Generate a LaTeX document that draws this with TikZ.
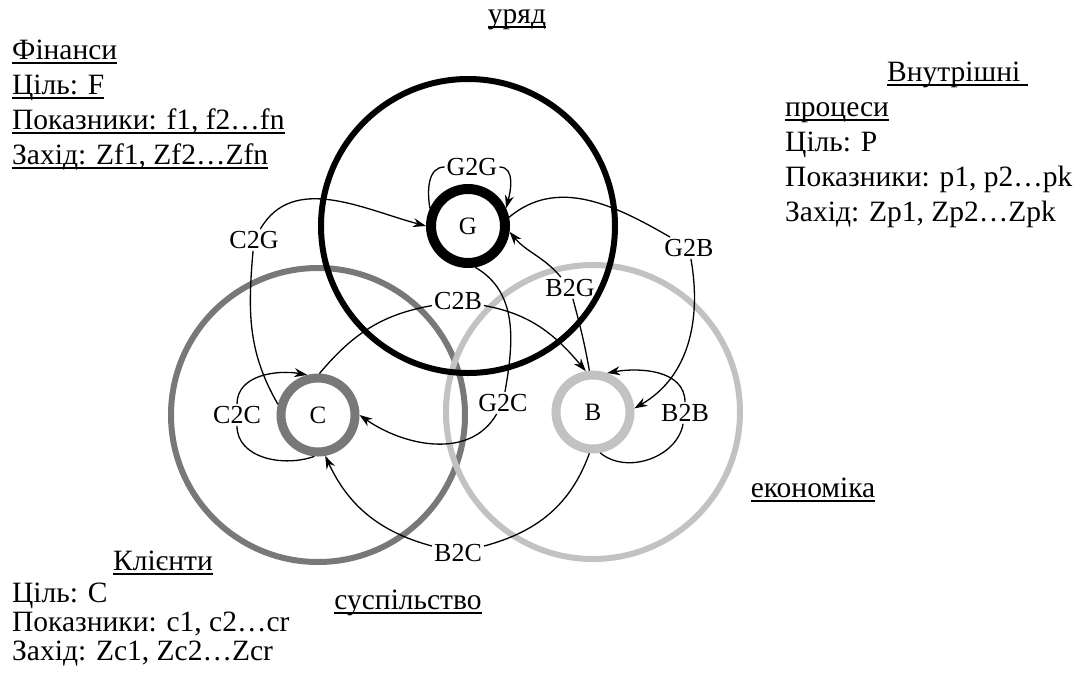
\documentclass[tikz,border=0pt]{standalone}
\usepackage{fontspec}
\setmainfont{Liberation Serif}
\usetikzlibrary{arrows.meta}

% underline with a fixed rule under the text box
\newcommand\undl[1]{\setbox0\hbox{#1}\rlap{\rule[-4pt]{\wd0}{1.6pt}}\box0}

\definecolor{cgray}{gray}{0.47}
\definecolor{bgray}{gray}{0.76}

\begin{document}
\begin{tikzpicture}[x=1pt,y=1pt,
  ring/.style={circle, draw, line width=9pt, minimum size=74pt, inner sep=0pt,
    font=\fontsize{25}{27}\selectfont},
  zone/.style={circle, draw, line width=6pt, minimum size=294pt, inner sep=0pt},
  lbl/.style={inner sep=2pt, font=\fontsize{26}{28}\selectfont},
  flow/.style={line width=1.3pt, -{Stealth[length=13pt,width=9pt]}},
  txt/.style={font=\fontsize{29.5}{35}\selectfont, align=left, inner sep=0pt, anchor=north west},
  head/.style={font=\fontsize{29.5}{35}\selectfont, inner sep=0pt}
]
\useasboundingbox (0,0) rectangle (1085,-686);

% the three spheres
\node[zone, draw=cgray] (Czone) at (318,-415) {};
\node[zone, draw=bgray] (Bzone) at (593,-412) {};
\node[zone, draw=black] (Gzone) at (468,-226) {};

% actors
\node[ring, draw=black, line width=10pt] (G) at (468,-226) {G};
\node[ring, draw=cgray] (C) at (318,-415) {C};
\node[ring, draw=bgray] (B) at (593,-412) {B};

% flow labels
\node[lbl] (lG2G) at (472,-167) {G2G};
\node[lbl] (lC2G) at (254,-240) {C2G};
\node[lbl] (lC2B) at (458,-301) {C2B};
\node[lbl] (lB2G) at (570,-288) {B2G};
\node[lbl] (lG2B) at (689,-248) {G2B};
\node[lbl] (lG2C) at (503,-403) {G2C};
\node[lbl] (lC2C) at (237,-415) {C2C};
\node[lbl] (lB2B) at (685,-413) {B2B};
\node[lbl] (lB2C) at (458,-553) {B2C};

% flows
\draw[flow] (G.155) to[out=100,in=180] (lG2G) to[out=0,in=75] (G.25);
\draw[flow] (C.165) to[out=120,in=-95] (lC2G) to[out=60,in=165] (G.180);
\draw[flow] (G.12) to[out=40,in=150] (lG2B) to[out=-80,in=30] (B.5);
\draw[flow] (B.95) to[out=100,in=-75] (lB2G) to[out=130,in=-50] (G.-8);
\draw[flow] (C.88) to[out=50,in=190] (lC2B) to[out=-10,in=130] (B.100);
\draw[flow] (G.-80) to[out=-30,in=80] (lG2C) to[out=-120,in=-35] (C.0);
\draw[flow] (C.-95) to[out=200,in=-90] (lC2C) to[out=90,in=170] (C.105);
\draw[flow] (B.-80) to[out=-40,in=-100] (lB2B) to[out=90,in=10] (B.70);
\draw[flow] (B.-95) to[out=-110,in=15] (lB2C) to[out=165,in=-65] (C.-80);

% sphere names
\node[head] (ngov) at (517,-20) {\undl{уряд}};
\node[head] (necon) at (813,-490) {\undl{економіка}};
\node[head] (nsoc) at (408,-603) {\undl{суспільство}};

% perspectives
\node[txt] (fin) at (12,-40) {\undl{Фінанси}\\ \undl{Ціль: F}\\
  \undl{Показники: f1, f2…fn}\\ \undl{Захід: Zf1, Zf2…Zfn}};
\node[txt] (proc) at (785,-62) {\hspace*{102pt}\undl{Внутрішні }\\ \undl{процеси}\\
  Ціль: P\\ Показники: p1, p2…pk\\ Захід: Zp1, Zp2…Zpk};
\node[head] (ncl) at (163,-563) {\undl{Клієнти}};
\node[txt, font=\fontsize{29.5}{29}\selectfont] (cl) at (12,-583) {Ціль: C\\ Показники: c1, c2…cr\\ Захід: Zc1, Zc2…Zcr};
\end{tikzpicture}
\end{document}
